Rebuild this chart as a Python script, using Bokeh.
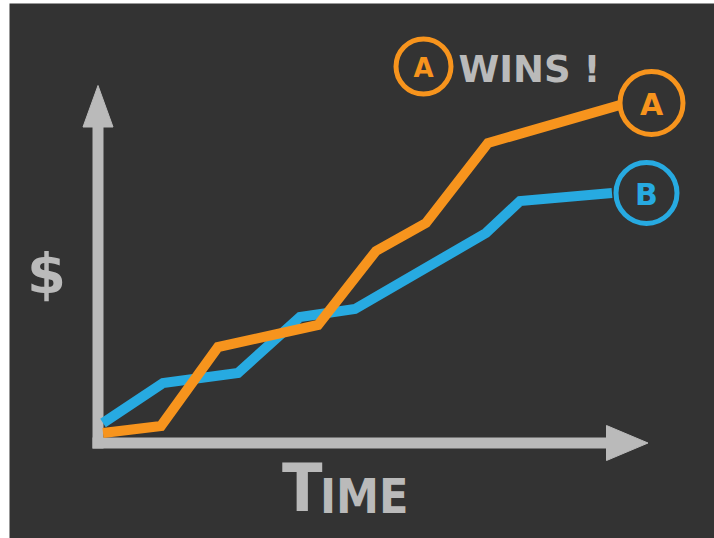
from bokeh.plotting import figure
from bokeh.models import Range1d
from bokeh.core.properties import value
from bokeh.embed import file_html
from bokeh.resources import INLINE

# ---- data (time units, $ units) ----
orange_t = [0.5, 6.3, 12.0, 22.0, 27.8, 32.8, 39.0, 52.2]
orange_v = [1.0, 1.7, 9.6, 11.8, 19.2, 22.0, 30.0, 33.8]
blue_t = [0.5, 6.5, 14.0, 20.2, 25.7, 38.8, 42.2, 51.4]
blue_v = [2.0, 6.0, 7.0, 12.6, 13.4, 21.0, 24.2, 25.0]

series_names = ["A", "B"]
label_t = [55.35, 54.85]
label_v = [34.0, 25.0]

winner_t = 32.55
winner_v = 37.65
winner_text = "WINS !"

x_label = ["T", "IME"]
y_label = "$"

axis_t_end = 55.0
axis_v_end = 35.75

BG = "#333333"
GRAY = "#bababa"
ORANGE = "#f7941d"
BLUE = "#27aae1"

W, H = 714, 538
LEFT, TOP = 9, 3
px_per_unit = 10.0
origin_x = 97.5 - LEFT
origin_y_from_bottom = H - 442.5
FW, FH = W - LEFT, H - TOP

p = figure(width=W, height=H, output_backend="svg", toolbar_location=None,
           min_border=0, min_border_left=LEFT, min_border_top=TOP,
           background_fill_color=BG, border_fill_color="white",
           outline_line_color=None,
           x_range=Range1d(-origin_x / px_per_unit, (FW - origin_x) / px_per_unit),
           y_range=Range1d(-origin_y_from_bottom / px_per_unit,
                           (FH - origin_y_from_bottom) / px_per_unit))
p.axis.visible = False
p.grid.visible = False

# ---- axes with arrow heads ----
head_len = 4.15
v_half = 1.5
h_half = 1.75
half_w = 0.55
p.segment(x0=[0, -half_w], y0=[-half_w, 0],
          x1=[0, axis_t_end - head_len], y1=[axis_v_end - head_len, 0],
          line_width=11, line_color=GRAY, line_cap="butt")
p.patches(xs=[[0, -v_half, v_half],
              [axis_t_end, axis_t_end - head_len, axis_t_end - head_len]],
          ys=[[axis_v_end, axis_v_end - head_len, axis_v_end - head_len],
              [0, h_half, -h_half]],
          fill_color=GRAY, line_color=GRAY, line_width=1)

# ---- series ----
p.line(blue_t, blue_v, line_width=10, line_color=BLUE, line_join="miter", line_cap="butt")
p.line(orange_t, orange_v, line_width=10, line_color=ORANGE, line_join="miter", line_cap="butt")

# ---- end labels ----
p.scatter(label_t, label_v, marker="circle", size=[63, 61], fill_color=BG,
          line_color=[ORANGE, BLUE], line_width=5)
p.text(label_t, [v - 0.15 for v in label_v], text=series_names,
       text_font=value("DejaVu Sans"), text_font_style="bold",
       text_font_size="30px", text_align="center", text_baseline="middle",
       text_color=[ORANGE, BLUE])

# ---- winner banner ----
p.scatter([winner_t], [winner_v], marker="circle", size=55, fill_color=BG,
          line_color=ORANGE, line_width=5)
p.text([winner_t], [winner_v - 0.1], text=[series_names[0]],
       text_font=value("DejaVu Sans"), text_font_style="bold",
       text_font_size="26px", text_align="center", text_baseline="middle",
       text_color=ORANGE)
p.text([winner_t + 3.5], [37.4], text=[winner_text],
       text_font=value("DejaVu Sans"), text_font_style="bold",
       text_font_size="37px", text_align="left", text_baseline="middle",
       text_color=GRAY)

# ---- axis titles ----
p.text([-5.15], [17.0], text=[y_label], text_font=value("DejaVu Sans"),
       text_font_style="bold", text_font_size="56px", text_align="center",
       text_baseline="middle", text_color=GRAY)
p.text([18.4], [-4.55], text=[x_label[0]], text_font=value("DejaVu Sans Condensed"),
       text_font_style="bold", text_font_size="66px", text_align="left",
       text_baseline="middle", text_color=GRAY)
p.text([22.2], [-5.25], text=[x_label[1]], text_font=value("DejaVu Sans Condensed"),
       text_font_style="bold", text_font_size="48px", text_align="left",
       text_baseline="middle", text_color=GRAY)

open("out.html", "w").write(file_html(p, INLINE))
